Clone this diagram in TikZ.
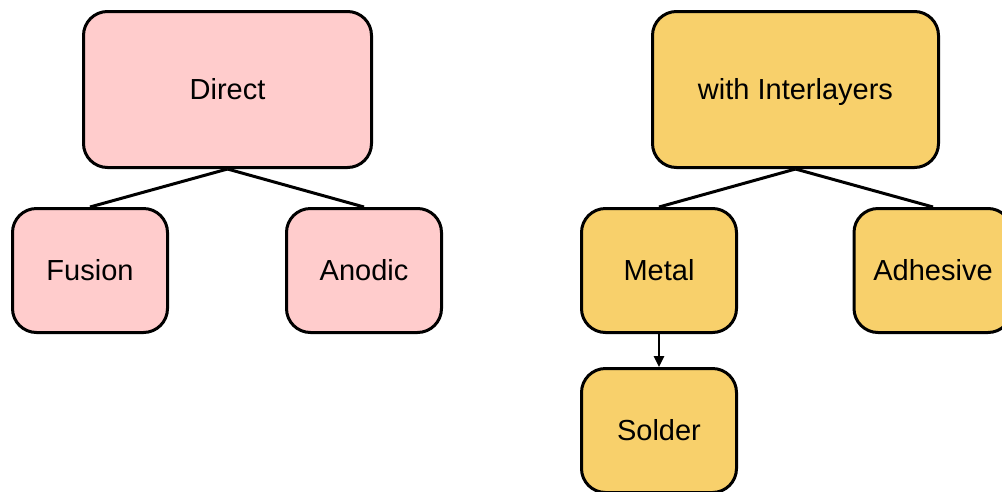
\documentclass[tikz,border=0pt]{standalone}
\usepackage{fontspec}
\setmainfont{Liberation Sans}
\usetikzlibrary{arrows.meta}
\definecolor{pinkfill}{HTML}{FFCCCC}
\definecolor{yellowfill}{HTML}{F8D06B}
\begin{document}
\begin{tikzpicture}[x=1pt,y=-1pt,
  box/.style={draw=black, line width=3pt, rounded corners=24pt, inner sep=0pt,
    font=\fontsize{29}{32}\selectfont, align=center, text height=20.5pt, text depth=0pt},
  pinkbox/.style={box, fill=pinkfill},
  yellowbox/.style={box, fill=yellowfill},
  link/.style={line width=3pt},
  arr/.style={line width=2.5pt, -{Triangle[length=11pt,width=10pt]}}]
\useasboundingbox (0,0) rectangle (1002,491);
\node[pinkbox, minimum width=288pt, minimum height=156pt] (direct) at (227.5,89.5) {Direct};
\node[pinkbox, minimum width=155pt, minimum height=124pt] (fusion) at (90,270.5) {Fusion};
\node[pinkbox, minimum width=155pt, minimum height=124pt] (anodic) at (364,270.5) {Anodic};
\node[yellowbox, minimum width=286pt, minimum height=156pt] (inter) at (795.5,89.5) {with Interlayers};
\node[yellowbox, minimum width=155pt, minimum height=124pt] (metal) at (659,270.5) {Metal};
\node[yellowbox, minimum width=158pt, minimum height=124pt] (adhesive) at (933,270.5) {Adhesive};
\node[yellowbox, minimum width=155pt, minimum height=124pt] (solder) at (659,430.5) {Solder};
\draw[link] (direct.south) -- (fusion.north);
\draw[link] (direct.south) -- (anodic.north);
\draw[link] (inter.south) -- (metal.north);
\draw[link] (inter.south) -- (adhesive.north);
\draw[arr] (metal.south) -- (solder.north);
\end{tikzpicture}
\end{document}
